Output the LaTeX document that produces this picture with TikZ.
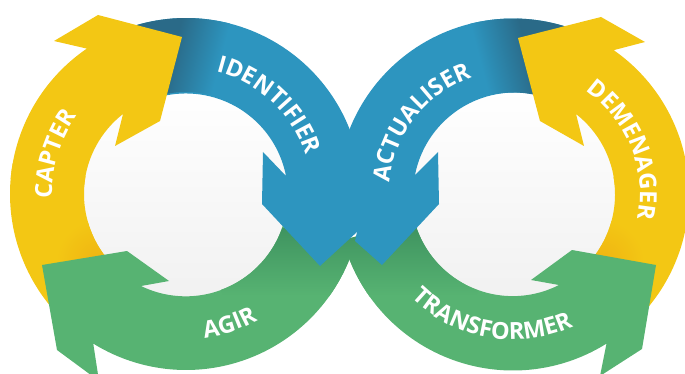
\documentclass[tikz,border=0pt]{standalone}
\usepackage{fontspec}
\setmainfont{Open Sans}
\usetikzlibrary{calc,decorations.text}
\definecolor{cyellow}{HTML}{F3C714}
\definecolor{cyellowd}{HTML}{F0B412}
\definecolor{cblue}{HTML}{2D95BF}
\definecolor{cblued}{HTML}{2A6A88}
\definecolor{cgreen}{HTML}{57B372}
\definecolor{cgreend}{HTML}{3F9460}
\definecolor{cdisc}{HTML}{F1F1F1}
\newcommand{\myfont}{\bfseries\fontsize{23.5}{24}\selectfont}
\newcommand{\ringsector}[3]{($(#1)+(#2:176)$) arc[start angle=#2,end angle=#3,radius=176] -- ($(#1)+(#3:102)$) arc[start angle=#3,end angle=#2,radius=102] -- cycle}
\newcommand{\arclabel}[6]{\path[decorate,decoration={text along path,text color=white,text align=center,text={|\myfont|#6}}]
  ($(#1,#2)+(#3:#5)$) arc[start angle=#3,end angle=#4,radius=#5];}
\tikzset{
  discfill/.style={top color=white,bottom color=cdisc},
}
\begin{document}
\begin{tikzpicture}[x=1pt,y=-1pt]
\useasboundingbox (0,0) rectangle (685,374);
\clip (0,0) rectangle (685,374);
\coordinate (L) at (186,194);
\coordinate (R) at (513,194.5);
% inner discs
\shade[discfill] (L) circle[radius=106];
\shade[discfill] (R) circle[radius=106];
% yellow tails
\fill[cyellow] \ringsector{L}{135}{190};
\fill[cyellow] \ringsector{R}{45}{-10};
\begin{scope}
  \clip \ringsector{L}{135}{190};
  \shade[inner color=cyellowd,outer color=cyellow] (98,262) circle[radius=42];
\end{scope}
\begin{scope}
  \clip \ringsector{R}{45}{-10};
  \shade[inner color=cyellowd,outer color=cyellow] (602,262) circle[radius=42];
\end{scope}
% green arrows
\fill[cgreen] ($(L)+(15:176)$) arc[start angle=15,end angle=121.8,radius=176]
  -- (99,381) -- (57,350) -- (42,265) -- (127,251) -- (169,281) -- (141,286)
  arc[start angle=116,end angle=15,radius=102] -- cycle;
\fill[cgreen] ($(R)+(165:176)$) arc[start angle=165,end angle=57.9,radius=176]
  -- (600,376) -- (642,349) -- (656,265) -- (572,250) -- (531,280) -- (559,285)
  arc[start angle=63,end angle=165,radius=102] -- cycle;
\begin{scope}
  \clip \ringsector{L}{15}{70};
  \shade[top color=cgreend,bottom color=cgreen] (200,228) rectangle (370,296);
\end{scope}
\begin{scope}
  \clip \ringsector{R}{165}{110};
  \shade[top color=cgreend,bottom color=cgreen] (330,228) rectangle (510,296);
\end{scope}
% blue arrows
\fill[cblue] ($(R)+(295:176)$) arc[start angle=295,end angle=180,radius=176]
  -- (357,232) -- (355,241) -- (382,265) -- (439,204) -- (438,152) -- (415,175)
  arc[start angle=191,end angle=295,radius=102] -- cycle;
\fill[cblue] ($(L)+(245:176)$) arc[start angle=245,end angle=360,radius=176]
  -- (357,232) -- (320,266) -- (262,204) -- (263,152) -- (286,176)
  arc[start angle=349,end angle=245,radius=102] -- cycle;
\begin{scope}
  \clip \ringsector{L}{245}{300};
  \begin{scope}[transform canvas={rotate around={-14.7:(171,79)}}]
    \fill[cblued] (60,-40) rectangle (167,200);
    \shade[left color=cblued,right color=cblue] (166,-40) rectangle (214,200);
  \end{scope}
\end{scope}
\begin{scope}
  \clip \ringsector{R}{295}{240};
  \begin{scope}[transform canvas={rotate around={14.7:(529,79)}}]
    \fill[cblued] (533,-40) rectangle (640,200);
    \shade[left color=cblue,right color=cblued] (486,-40) rectangle (534,200);
  \end{scope}
\end{scope}
% yellow heads
\fill[cyellow] ($(L)+(185:176)$) arc[start angle=185,end angle=235.7,radius=176]
  -- (54,41) -- (98,15) -- (182,37) -- (160,121) -- (115,146) -- (123,114)
  arc[start angle=232,end angle=185,radius=102] -- cycle;
\fill[cyellow] ($(R)+(-5:176)$) arc[start angle=-5,end angle=-55.1,radius=176]
  -- (645,42) -- (601,17) -- (518,38) -- (540,121) -- (584,146) -- (576,114)
  arc[start angle=-52,end angle=-5,radius=102] -- cycle;
% labels (y axis pointing up, origin at the lower left corner)
\begin{scope}[y=1pt,shift={(0pt,-374pt)}]
  \arclabel{186}{180}{205}{121}{134}{CAPTER}
  \arclabel{186}{180}{95}{-1}{126}{IDENTIFIER}
  \arclabel{186}{180}{-115}{-28}{145}{AGIR}
  \arclabel{513}{179.5}{190}{94}{124}{ACTUALISER}
  \arclabel{513}{179.5}{75}{-31}{127}{DEMENAGER}
  \arclabel{513}{179.5}{-155}{-45}{145}{TRANSFORMER}
\end{scope}
\end{tikzpicture}
\end{document}
